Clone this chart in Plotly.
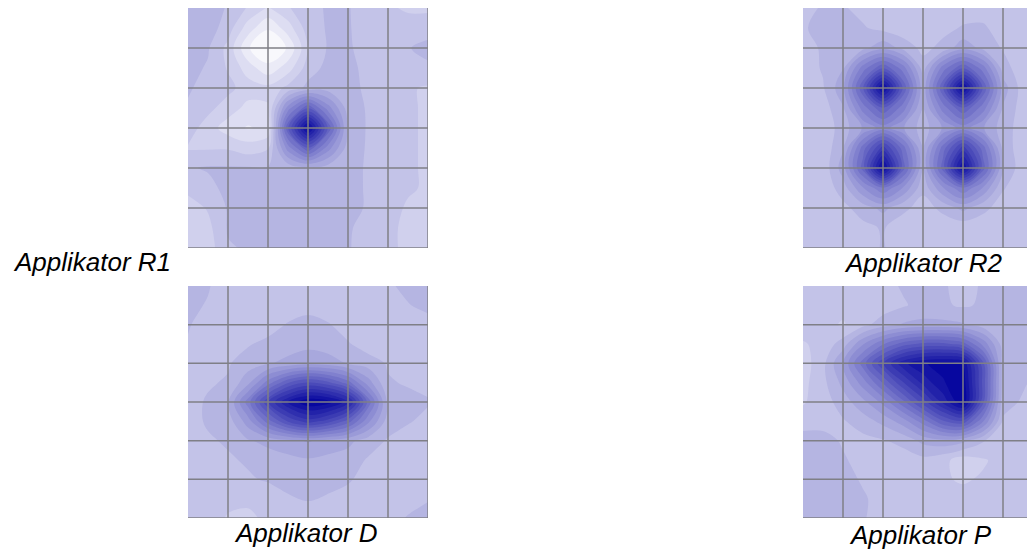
import plotly.graph_objects as go

# page body has an 8px margin, so the figure is 8px smaller than the window
OFF = 8
W, H = 1035 - OFF, 551 - OFF

# grid node coordinates (13 x 13 samples, half-cell spacing, 6 x 6 cells)
nodes = [0, 0.5, 1, 1.5, 2, 2.5, 3, 3.5, 4, 4.5, 5, 5.5, 6]

# intensity values per applicator (rows top -> bottom, columns left -> right)
r1_z = [
    [.30, .30, .27, .22, .17, .22, .26, .28, .28, .24, .23, .22, .22],
    [.30, .30, .25, .15, .08, .15, .25, .28, .28, .25, .24, .24, .24],
    [.30, .28, .21, .08, .03, .08, .22, .28, .28, .26, .25, .27, .30],
    [.29, .27, .22, .15, .09, .15, .25, .29, .29, .26, .24, .25, .26],
    [.28, .26, .24, .20, .19, .24, .29, .30, .30, .26, .24, .23, .22],
    [.27, .24, .20, .16, .17, .45, .62, .45, .30, .27, .24, .23, .22],
    [.25, .20, .15, .12, .14, .62, .96, .62, .31, .27, .25, .23, .22],
    [.22, .22, .22, .20, .22, .45, .62, .45, .30, .27, .25, .23, .22],
    [.27, .28, .28, .28, .28, .29, .31, .30, .29, .27, .26, .23, .22],
    [.24, .26, .29, .29, .29, .30, .30, .30, .29, .27, .25, .23, .22],
    [.20, .23, .28, .30, .30, .30, .30, .30, .29, .27, .24, .22, .22],
    [.19, .21, .28, .29, .29, .29, .29, .29, .28, .26, .23, .22, .22],
    [.19, .20, .27, .28, .28, .28, .28, .28, .28, .25, .23, .22, .22],
]
r2_z = [
    [.26, .28, .28, .26, .24, .24, .24, .24, .25, .26, .24, .24, .24],
    [.27, .29, .29, .28, .26, .24, .24, .26, .28, .28, .26, .24, .24],
    [.26, .28, .30, .31, .36, .31, .26, .29, .36, .31, .27, .24, .24],
    [.25, .28, .32, .50, .62, .50, .30, .50, .62, .50, .30, .24, .24],
    [.24, .27, .36, .62, .95, .62, .34, .62, .95, .62, .35, .25, .24],
    [.24, .25, .32, .50, .62, .50, .32, .50, .62, .50, .32, .25, .24],
    [.24, .24, .30, .38, .45, .38, .30, .38, .45, .38, .30, .25, .24],
    [.24, .24, .32, .55, .75, .55, .32, .55, .75, .55, .31, .24, .24],
    [.24, .24, .35, .60, .95, .60, .33, .60, .93, .60, .33, .24, .24],
    [.24, .24, .30, .42, .52, .42, .29, .42, .52, .42, .28, .24, .24],
    [.24, .24, .26, .30, .34, .29, .25, .29, .34, .29, .25, .24, .24],
    [.24, .24, .24, .26, .28, .24, .24, .24, .24, .24, .24, .24, .24],
    [.24, .24, .24, .25, .28, .24, .24, .24, .24, .24, .24, .24, .24],
]
d_z = [
    [.30, .28, .24, .24, .24, .24, .24, .24, .24, .24, .26, .30, .30],
    [.29, .27, .24, .24, .24, .24, .25, .24, .24, .24, .24, .27, .30],
    [.28, .25, .24, .24, .25, .28, .30, .28, .25, .24, .24, .24, .24],
    [.27, .25, .25, .27, .29, .30, .31, .30, .28, .25, .24, .24, .24],
    [.27, .25, .27, .30, .32, .34, .36, .35, .32, .30, .27, .26, .25],
    [.26, .27, .28, .36, .50, .62, .68, .64, .55, .40, .28, .27, .26],
    [.26, .28, .32, .50, .72, .88, .97, .95, .85, .56, .31, .29, .28],
    [.26, .28, .30, .40, .55, .68, .75, .70, .60, .44, .30, .28, .26],
    [.26, .27, .28, .32, .34, .36, .38, .36, .34, .30, .27, .25, .24],
    [.25, .27, .27, .28, .30, .31, .32, .31, .30, .27, .25, .24, .24],
    [.24, .26, .26, .27, .28, .29, .30, .29, .28, .26, .24, .24, .24],
    [.25, .25, .24, .23, .25, .27, .28, .27, .26, .24, .24, .25, .27],
    [.26, .25, .22, .22, .23, .24, .24, .24, .24, .24, .25, .28, .30],
]
p_z = [
    [.27, .26, .24, .24, .26, .28, .30, .28, .26, .28, .30, .30, .30],
    [.26, .25, .24, .24, .25, .27, .29, .28, .27, .28, .29, .30, .30],
    [.25, .24, .22, .26, .30, .33, .34, .34, .33, .30, .29, .30, .30],
    [.22, .24, .30, .42, .52, .60, .64, .64, .60, .46, .30, .30, .29],
    [.20, .26, .38, .55, .72, .86, .92, .94, .92, .64, .30, .29, .28],
    [.21, .26, .34, .45, .58, .72, .84, .92, .96, .66, .30, .28, .26],
    [.22, .25, .30, .36, .44, .56, .70, .84, .97, .64, .29, .27, .25],
    [.25, .26, .27, .30, .34, .40, .50, .62, .66, .48, .27, .25, .24],
    [.30, .29, .27, .26, .27, .29, .34, .36, .34, .28, .24, .24, .24],
    [.31, .30, .28, .26, .25, .25, .26, .24, .20, .22, .24, .24, .24],
    [.32, .31, .29, .27, .26, .25, .24, .23, .22, .23, .24, .24, .24],
    [.30, .31, .30, .28, .26, .24, .24, .24, .24, .24, .24, .24, .24],
    [.28, .30, .30, .28, .25, .24, .24, .24, .24, .24, .24, .24, .24],
]
labels = ["Applikator R1", "Applikator R2", "Applikator D", "Applikator P"]
grid_lines = [1, 2, 3, 4, 5, 6]

# panel placement in window pixels: (z, x px range, y px range, x range max)
panels = [
    (r1_z, (188, 428), (8, 248), 6),
    (r2_z, (803, 1035), (8, 248), 5.8),
    (d_z, (188, 428), (286, 518), 6),
    (p_z, (803, 1035), (286, 518), 5.8),
]
label_pos = [
    (11, 262, "left"),
    (923, 263, "center"),
    (306, 533, "center"),
    (920, 535, "center"),
]

colorscale = [[0.0, "#ffffff"], [1.0, "#00009c"]]

fig = go.Figure()
for i, (z, (x0, x1), (y0, y1), xmax) in enumerate(panels):
    n = "" if i == 0 else str(i + 1)
    x0, x1, y0, y1 = x0 - OFF, x1 - OFF, y0 - OFF, y1 - OFF
    fig.add_trace(go.Contour(
        x=nodes, y=nodes, z=z,
        xaxis="x" + n, yaxis="y" + n,
        colorscale=colorscale, zmin=0, zmax=1,
        autocontour=False,
        contours=dict(start=0.025, end=1.0, size=0.05, coloring="fill", showlines=False),
        line=dict(width=0, smoothing=1.0),
        showscale=False, hoverinfo="skip",
    ))
    fig.update_layout({
        "xaxis" + n: dict(domain=[x0 / W, min(x1 / W, 1)], range=[0, xmax], showgrid=False,
                          zeroline=False, showticklabels=False, ticks="",
                          anchor="y" + n),
        "yaxis" + n: dict(domain=[(H - y1) / H, (H - y0) / H], range=[6, 0], showgrid=False,
                          zeroline=False, showticklabels=False, ticks="",
                          anchor="x" + n),
    })
    for g in grid_lines:
        fig.add_shape(type="line", xref="x" + n, yref="y" + n + " domain",
                      x0=g, x1=g, y0=0, y1=1,
                      line=dict(color="#7f7f86", width=1.5))
        fig.add_shape(type="line", xref="x" + n + " domain", yref="y" + n,
                      x0=0, x1=1, y0=g, y1=g,
                      line=dict(color="#7f7f86", width=1.5))

for text, (px, py, anchor) in zip(labels, label_pos):
    fig.add_annotation(text=text, xref="paper", yref="paper",
                       x=(px - OFF) / W, y=(H - (py - OFF)) / H,
                       xanchor=anchor, yanchor="middle", showarrow=False,
                       font=dict(family="Liberation Sans, Arial, sans-serif", size=26,
                                 color="#000000", style="italic"))

fig.update_layout(width=W, height=H, margin=dict(l=0, r=0, t=0, b=0),
                  paper_bgcolor="white", plot_bgcolor="white", showlegend=False)
fig.write_html("out.html")
